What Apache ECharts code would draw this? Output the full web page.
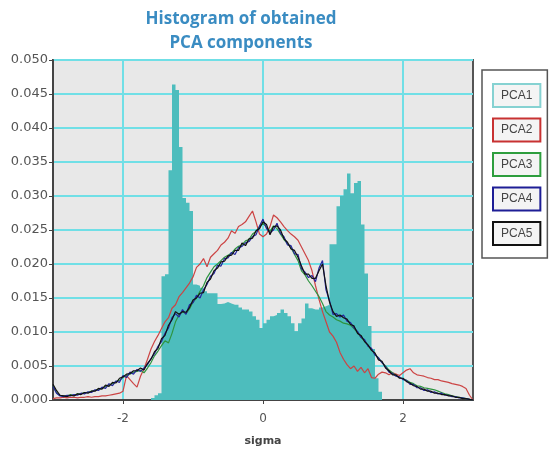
<!DOCTYPE html>
<html>
<head>
<meta charset="utf-8">
<script src="https://cdn.jsdelivr.net/npm/echarts@6/dist/echarts.min.js"></script>
<style>
  html, body { margin: 0; padding: 0; background: #fff; }
  #chart { width: 552px; height: 452px; }
</style>
</head>
<body>
<div id="chart"></div>
<script>
// PCA1 histogram: bins of 0.05 sigma starting at -1.60
var histStart = -1.6;
var histStep = 0.05;
var pca1 = [
  0.0003, 0.0007, 0.0010, 0.0182, 0.0185, 0.0338, 0.0464, 0.0456, 0.0372, 0.0297,
  0.0290, 0.0278, 0.0170, 0.0168, 0.0165, 0.0160, 0.0157, 0.0157, 0.0157, 0.0141,
  0.0142, 0.0144, 0.0142, 0.0140, 0.0140, 0.0136, 0.0133, 0.0133, 0.0130, 0.0123,
  0.0118, 0.0106, 0.0113, 0.0118, 0.0123, 0.0125, 0.0128, 0.0133, 0.0128, 0.0123,
  0.0113, 0.0101, 0.0113, 0.0120, 0.0142, 0.0135, 0.0133, 0.0133, 0.0136, 0.0138,
  0.0140, 0.0229, 0.0229, 0.0285, 0.0300, 0.0310, 0.0333, 0.0304, 0.0319, 0.0322,
  0.0258, 0.0186, 0.0109, 0.0075, 0.0032, 0.0012
];

// PCA2..PCA5 curves, sampled every 0.05 sigma from -3 to 3
var lineStart = -3;
var lineStep = 0.05;
var pca2 = [
  0.0002, 0.0003, 0.0003, 0.0004, 0.0003, 0.0004, 0.0004, 0.0003, 0.0004, 0.0004,
  0.0005, 0.0004, 0.0005, 0.0005, 0.0006, 0.0006, 0.0007, 0.0008, 0.0009, 0.0010,
  0.0013, 0.0036, 0.0030, 0.0024, 0.0019, 0.0035, 0.0046, 0.0060, 0.0075, 0.0086,
  0.0095, 0.0105, 0.0115, 0.0121, 0.0135, 0.0140, 0.0152, 0.0158, 0.0165, 0.0172,
  0.0181, 0.0195, 0.0200, 0.0208, 0.0196, 0.0210, 0.0215, 0.0220, 0.0228, 0.0232,
  0.0238, 0.0249, 0.0245, 0.0255, 0.0258, 0.0262, 0.0270, 0.0278, 0.0262, 0.0244,
  0.0240, 0.0244, 0.0255, 0.0272, 0.0268, 0.0262, 0.0255, 0.0249, 0.0244, 0.0240,
  0.0235, 0.0225, 0.0215, 0.0205, 0.0190, 0.0168, 0.0148, 0.0130, 0.0115, 0.0100,
  0.0094, 0.0085, 0.0070, 0.0060, 0.0052, 0.0046, 0.0050, 0.0042, 0.0048, 0.0040,
  0.0046, 0.0033, 0.0032, 0.0038, 0.0041, 0.0040, 0.0037, 0.0040, 0.0038, 0.0036,
  0.0040, 0.0044, 0.0046, 0.0040, 0.0037, 0.0036, 0.0035, 0.0033, 0.0032, 0.0030,
  0.0030, 0.0028, 0.0027, 0.0026, 0.0024, 0.0023, 0.0022, 0.0020, 0.0017, 0.0007,
  0.0000
];
var pca3 = [
  0.0021, 0.0011, 0.0007, 0.0006, 0.0006, 0.0008, 0.0007, 0.0009, 0.0009, 0.0011,
  0.0011, 0.0013, 0.0014, 0.0016, 0.0017, 0.0020, 0.0022, 0.0024, 0.0027, 0.0029,
  0.0033, 0.0036, 0.0038, 0.0041, 0.0042, 0.0044, 0.0040, 0.0047, 0.0055, 0.0065,
  0.0072, 0.0080, 0.0087, 0.0084, 0.0098, 0.0115, 0.0125, 0.0130, 0.0127, 0.0134,
  0.0144, 0.0150, 0.0160, 0.0168, 0.0180, 0.0188, 0.0196, 0.0200, 0.0205, 0.0210,
  0.0213, 0.0216, 0.0222, 0.0226, 0.0228, 0.0234, 0.0236, 0.0244, 0.0248, 0.0255,
  0.0260, 0.0254, 0.0248, 0.0256, 0.0252, 0.0244, 0.0236, 0.0230, 0.0224, 0.0214,
  0.0205, 0.0190, 0.0184, 0.0175, 0.0168, 0.0160, 0.0152, 0.0142, 0.0130, 0.0125,
  0.0122, 0.0118, 0.0116, 0.0113, 0.0112, 0.0110, 0.0105, 0.0099, 0.0092, 0.0087,
  0.0080, 0.0074, 0.0067, 0.0062, 0.0055, 0.0050, 0.0044, 0.0040, 0.0036, 0.0033,
  0.0031, 0.0029, 0.0026, 0.0024, 0.0021, 0.0020, 0.0018, 0.0017, 0.0016, 0.0015,
  0.0013, 0.0011, 0.0009, 0.0008, 0.0006, 0.0005, 0.0004, 0.0003, 0.0002, 0.0001,
  0.0000
];
var pca4 = [
  0.0020, 0.0010, 0.0006, 0.0005, 0.0007, 0.0006, 0.0008, 0.0007, 0.0010, 0.0009,
  0.0012, 0.0011, 0.0015, 0.0014, 0.0019, 0.0017, 0.0024, 0.0021, 0.0028, 0.0026,
  0.0036, 0.0033, 0.0041, 0.0038, 0.0045, 0.0042, 0.0047, 0.0052, 0.0061, 0.0068,
  0.0079, 0.0086, 0.0098, 0.0106, 0.0121, 0.0127, 0.0122, 0.0133, 0.0126, 0.0140,
  0.0143, 0.0154, 0.0150, 0.0162, 0.0170, 0.0182, 0.0186, 0.0198, 0.0197, 0.0208,
  0.0209, 0.0217, 0.0214, 0.0224, 0.0226, 0.0231, 0.0233, 0.0240, 0.0243, 0.0256,
  0.0266, 0.0252, 0.0246, 0.0250, 0.0260, 0.0245, 0.0240, 0.0228, 0.0227, 0.0215,
  0.0214, 0.0193, 0.0188, 0.0180, 0.0183, 0.0174, 0.0194, 0.0205, 0.0162, 0.0146,
  0.0126, 0.0127, 0.0122, 0.0125, 0.0116, 0.0114, 0.0106, 0.0101, 0.0092, 0.0089,
  0.0079, 0.0076, 0.0066, 0.0062, 0.0055, 0.0049, 0.0041, 0.0039, 0.0035, 0.0034,
  0.0030, 0.0029, 0.0023, 0.0023, 0.0018, 0.0018, 0.0014, 0.0015, 0.0011, 0.0012,
  0.0009, 0.0010, 0.0007, 0.0007, 0.0005, 0.0005, 0.0003, 0.0003, 0.0002, 0.0001,
  0.0000
];
var pca5 = [
  0.0023, 0.0014, 0.0007, 0.0006, 0.0005, 0.0007, 0.0006, 0.0009, 0.0008, 0.0011,
  0.0010, 0.0013, 0.0013, 0.0017, 0.0016, 0.0022, 0.0020, 0.0026, 0.0025, 0.0032,
  0.0034, 0.0038, 0.0039, 0.0043, 0.0043, 0.0047, 0.0044, 0.0054, 0.0060, 0.0071,
  0.0076, 0.0090, 0.0095, 0.0110, 0.0118, 0.0130, 0.0126, 0.0130, 0.0129, 0.0136,
  0.0147, 0.0150, 0.0157, 0.0158, 0.0173, 0.0178, 0.0190, 0.0194, 0.0203, 0.0204,
  0.0212, 0.0213, 0.0220, 0.0220, 0.0231, 0.0227, 0.0237, 0.0238, 0.0249, 0.0252,
  0.0262, 0.0258, 0.0243, 0.0255, 0.0256, 0.0250, 0.0237, 0.0232, 0.0222, 0.0220,
  0.0210, 0.0197, 0.0185, 0.0185, 0.0179, 0.0179, 0.0190, 0.0200, 0.0168, 0.0144,
  0.0130, 0.0123, 0.0125, 0.0121, 0.0119, 0.0111, 0.0109, 0.0098, 0.0095, 0.0086,
  0.0081, 0.0073, 0.0069, 0.0059, 0.0057, 0.0047, 0.0043, 0.0037, 0.0037, 0.0032,
  0.0032, 0.0027, 0.0025, 0.0021, 0.0020, 0.0016, 0.0016, 0.0013, 0.0013, 0.0010,
  0.0010, 0.0008, 0.0008, 0.0006, 0.0006, 0.0004, 0.0004, 0.0002, 0.0002, 0.0001,
  0.0000
];

var xTicks = [-2, 0, 2];
var names = ['PCA1', 'PCA2', 'PCA3', 'PCA4', 'PCA5'];
var colors = ['#4dbdbd', '#cc4444', '#2e9440', '#2525a0', '#111111'];
var legendBorders = ['#86d2d2', '#c83232', '#2e9e3e', '#1e1e96', '#111111'];

function toPairs(start, step, vals) {
  return vals.map(function (v, i) {
    return [+(start + i * step).toFixed(2), v];
  });
}

var histData = toPairs(histStart, histStep, pca1);
histData.push([+(histStart + pca1.length * histStep).toFixed(2), 0]);

var lineSeries = [pca2, pca3, pca4, pca5].map(function (vals, k) {
  return {
    name: names[k + 1],
    type: 'line',
    data: toPairs(lineStart, lineStep, vals),
    showSymbol: false,
    symbol: 'none',
    lineStyle: { width: 1.2, color: colors[k + 1] },
    itemStyle: { color: colors[k + 1] }
  };
});

var myChart = echarts.init(document.getElementById('chart'));

var option = {
  backgroundColor: '#ffffff',
  animation: false,
  graphic: [{
    type: 'text',
    x: 241,
    y: 7,
    style: {
      text: 'Histogram of obtained\nPCA components',
      align: 'center',
      fill: '#3a8cc2',
      font: 'bold 17px "Open Sans"',
      lineHeight: 24
    }
  }],
  grid: {
    left: 53,
    right: 79,
    top: 60,
    bottom: 47,
    show: true,
    backgroundColor: '#e8e8e8',
    borderColor: '#555',
    borderWidth: 2
  },
  legend: {
    orient: 'vertical',
    left: 482,
    top: 70,
    padding: [13, 6, 12, 6],
    itemGap: 9.5,
    itemWidth: 0,
    itemHeight: 0,
    backgroundColor: '#ffffff',
    borderColor: '#555',
    borderWidth: 1.5,
    selectedMode: false,
    textStyle: {
      fontFamily: 'Liberation Sans',
      fontSize: 12,
      lineHeight: 12,
      color: '#444',
      backgroundColor: '#f4f4f4',
      borderWidth: 2,
      padding: [5, 7, 4, 7]
    },
    data: names.map(function (n, i) {
      return { name: n, textStyle: { borderColor: legendBorders[i] } };
    })
  },
  xAxis: {
    type: 'value',
    min: -3,
    max: 3,
    interval: 1,
    name: 'sigma',
    nameLocation: 'middle',
    nameGap: 36,
    nameTextStyle: { fontFamily: 'DejaVu Sans', fontWeight: 'bold', fontSize: 11, color: '#444' },
    axisLine: { show: true, onZero: false, lineStyle: { color: '#444', width: 2 } },
    axisTick: { show: true, length: 4, customValues: xTicks, lineStyle: { color: '#444' } },
    axisLabel: { customValues: xTicks, fontFamily: 'DejaVu Sans', fontSize: 12, color: '#555', margin: 13 },
    splitLine: { show: true, lineStyle: { color: '#70dfe6', width: 2 } }
  },
  yAxis: {
    type: 'value',
    min: 0,
    max: 0.05,
    interval: 0.005,
    axisLine: { show: true, onZero: false, lineStyle: { color: '#444', width: 2 } },
    axisTick: { show: true, length: 4, lineStyle: { color: '#444' } },
    axisLabel: {
      fontFamily: 'DejaVu Sans', fontSize: 13, color: '#555', margin: 5,
      formatter: function (v) { return v.toFixed(3); }
    },
    splitLine: { show: true, lineStyle: { color: '#70dfe6', width: 2 } }
  },
  series: [{
    name: 'PCA1',
    type: 'line',
    step: 'end',
    data: histData,
    symbol: 'none',
    showSymbol: false,
    lineStyle: { width: 0, color: colors[0] },
    itemStyle: { color: colors[0] },
    areaStyle: { color: colors[0], opacity: 1 }
  }].concat(lineSeries)
};

myChart.setOption(option);
</script>
</body>
</html>
